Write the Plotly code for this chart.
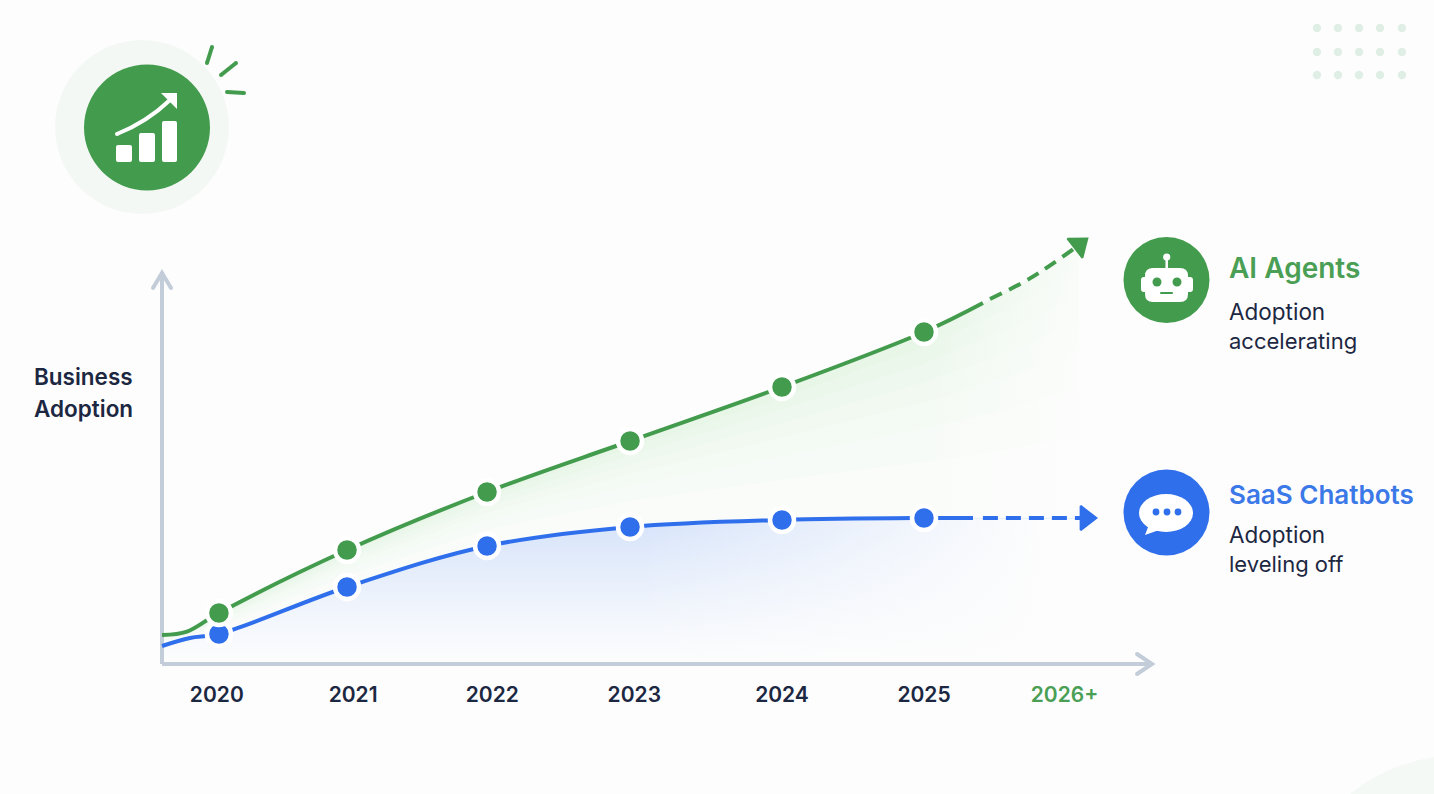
import numpy as np
import plotly.graph_objects as go

# Page geometry of the plot area, in pixels; it reaches a little past the drawn axes
PAGE_W, PAGE_H = 1434, 794
LEFT, RIGHT, TOP, BOTTOM = 150, 1160, 230, 670

GREEN = "#439c4d"
BLUE = "#2f6fec"
GREEN_TEXT = "#4a9f55"
BLUE_TEXT = "#3b78e8"
NAVY = "#1c2742"
AXIS = "#c3cdd9"
FONT = "Inter"

# Scale of the axes
X_RANGE = [2019.5495, 2026.662]
Y_RANGE = [-1.5, 108.5]
# Where the drawn axis lines start and stop
AXIS_X0, AXIS_X1 = 2019.634, 2026.592
AXIS_Y1 = 98

# Horizontal position of each year along the time axis
tick_x = [2020.02, 2020.98, 2021.96, 2022.96, 2024.0, 2025.0, 2025.99]
tick_text = ["2020", "2021", "2022", "2023", "2024", "2025", "2026+"]

# AI agents: solid history, then the dashed projection
agents_x = [2019.634, 2019.81, 2020.035, 2020.937, 2021.923, 2022.93, 2024.0, 2025.0, 2025.415]
agents_y = [7.25, 8.1, 12.75, 28.5, 43.0, 55.75, 69.25, 83.0, 90.25]
agents_proj_x = [2025.465, 2025.746, 2026.063]
agents_proj_y = [91.25, 96.4, 104.0]
agents_tip = (2026.092, 104.75)

# SaaS chatbots: solid history, then the dashed projection
bots_x = [2019.634, 2019.831, 2020.035, 2020.937, 2021.923, 2022.93, 2024.0, 2025.0, 2025.345]
bots_y = [4.5, 6.5, 7.5, 19.25, 29.5, 34.25, 36.0, 36.5, 36.5]
bots_proj_x = [2025.415, 2026.1]
bots_proj_y = [36.5, 36.5]
bots_tip = (2026.14, 36.5)

# Yearly markers sit on these indices of the history arrays
marker_idx = [2, 3, 4, 5, 6, 7]

# Stacked translucent layers that soften the band between the two curves;
# each reaches this fraction of the way down to the chatbot curve
band_fractions = [0.08, 0.17, 0.27, 0.38, 0.52, 0.7, 1.0]
BAND_COLOR = "rgba(160,215,160,0.03)"


def fx(x):
    return (x - LEFT) / (RIGHT - LEFT)


def fy(y):
    return (BOTTOM - y) / (BOTTOM - TOP)


def build_path(cmds):
    out = []
    for cmd in cmds:
        nums = cmd[1:]
        pairs = [f"{fx(nums[i]):.5f},{fy(nums[i + 1]):.5f}" for i in range(0, len(nums), 2)]
        out.append(cmd[0] + " ".join(pairs))
    return " ".join(out)


def circle(cx, cy, r, color, ry=None):
    ry = r if ry is None else ry
    return dict(type="circle", xref="paper", yref="paper", x0=fx(cx - r), x1=fx(cx + r),
                y0=fy(cy + ry), y1=fy(cy - ry), fillcolor=color, line_width=0, layer="above")


def shape_path(cmds, fill=None, line=None, width=0):
    d = dict(type="path", xref="paper", yref="paper", path=build_path(cmds), layer="above")
    d["fillcolor"] = fill if fill else "rgba(0,0,0,0)"
    d["line"] = dict(color=line if line else "rgba(0,0,0,0)", width=width)
    return d


def round_rect(x0, y0, x1, y1, r, color):
    return shape_path([
        ("M", x0 + r, y0), ("L", x1 - r, y0), ("Q", x1, y0, x1, y0 + r),
        ("L", x1, y1 - r), ("Q", x1, y1, x1 - r, y1), ("L", x0 + r, y1),
        ("Q", x0, y1, x0, y1 - r), ("L", x0, y0 + r), ("Q", x0, y0, x0 + r, y0), ("Z",),
    ], fill=color)


def stroke(points, color, width, round_caps=True):
    cmds = [("M",) + points[0]] + [("L",) + p for p in points[1:]]
    items = [shape_path(cmds, line=color, width=width)]
    if round_caps:
        for p in (points[0], points[-1]):
            items.append(circle(p[0], p[1], width / 2, color))
    return items


def label(x, y, text, size, color, weight=500):
    return dict(xref="paper", yref="paper", x=fx(x), y=fy(y), text=text, showarrow=False,
                xanchor="left", yanchor="middle", align="left",
                font=dict(family=FONT, size=size, color=color, weight=weight))


fig = go.Figure()

# Soft area under the chatbot curve, fading towards the baseline
fig.add_trace(go.Scatter(
    x=bots_x + bots_proj_x, y=bots_y + bots_proj_y, mode="lines",
    line=dict(width=0, shape="spline"), fill="tozeroy", hoverinfo="skip",
    fillgradient=dict(type="vertical", start=0, stop=37,
                      colorscale=[[0, "rgba(200,218,250,0)"], [1, "rgba(185,208,248,0.6)"]]),
))
# Wash the chatbot area out towards the right-hand end
fig.add_trace(go.Scatter(
    x=[2023.0, 2026.2, 2026.2, 2023.0], y=[0, 0, 36.4, 36.2], mode="lines",
    line=dict(width=0), fill="toself", hoverinfo="skip",
    fillgradient=dict(type="horizontal", start=2023.0, stop=2025.85,
                      colorscale=[[0, "rgba(253,253,253,0)"], [1, "rgba(253,253,253,1)"]]),
))

# Band between the curves
top_x = np.array(agents_x + agents_proj_x + [agents_tip[0]])
top_y = np.array(agents_y + agents_proj_y + [agents_tip[1]])
floor_y = np.interp(top_x, bots_x + bots_proj_x, bots_y + bots_proj_y)
for frac in band_fractions:
    low_y = top_y - frac * (top_y - floor_y)
    fig.add_trace(go.Scatter(
        x=np.concatenate([top_x, top_x[::-1]]), y=np.concatenate([top_y, low_y[::-1]]),
        mode="lines", line=dict(width=0), fill="toself", fillcolor=BAND_COLOR, hoverinfo="skip",
    ))
# Fade the band as it approaches the projected end
wash = top_x >= 2025.0
fig.add_trace(go.Scatter(
    x=np.concatenate([top_x[wash], [2026.2, 2026.2, 2025.0]]),
    y=np.concatenate([top_y[wash] + 0.4, [top_y[-1], 36.8, 36.8]]),
    mode="lines", line=dict(width=0), fill="toself", hoverinfo="skip",
    fillgradient=dict(type="horizontal", start=2025.0, stop=2026.1,
                      colorscale=[[0, "rgba(253,253,253,0)"], [1, "rgba(253,253,253,0.8)"]]),
))

# Axis lines run from the origin and stop short of the plot edge
fig.add_trace(go.Scatter(x=[AXIS_X0, AXIS_X0], y=[0, AXIS_Y1], mode="lines", hoverinfo="skip",
                         line=dict(color=AXIS, width=4)))
fig.add_trace(go.Scatter(x=[AXIS_X0, AXIS_X1], y=[0, 0], mode="lines", hoverinfo="skip",
                         line=dict(color=AXIS, width=4)))


def add_series(xs, ys, proj_x, proj_y, tip, tip_angle, color, dash):
    fig.add_trace(go.Scatter(x=xs, y=ys, mode="lines", hoverinfo="skip",
                             line=dict(color=color, width=4, shape="spline")))
    fig.add_trace(go.Scatter(x=proj_x, y=proj_y, mode="lines", hoverinfo="skip",
                             line=dict(color=color, width=4, shape="spline", dash=dash)))
    fig.add_trace(go.Scatter(x=[tip[0]], y=[tip[1]], mode="markers", hoverinfo="skip",
                             marker=dict(symbol="triangle-up", size=21, color=color, angle=tip_angle,
                                         line=dict(color=color, width=2))))
    fig.add_trace(go.Scatter(x=[xs[i] for i in marker_idx], y=[ys[i] for i in marker_idx],
                             mode="markers", hoverinfo="skip",
                             marker=dict(size=24, color=color, line=dict(color="white", width=4.5))))


add_series(bots_x, bots_y, bots_proj_x, bots_proj_y, bots_tip, 90, BLUE, "15px,8px")
add_series(agents_x, agents_y, agents_proj_x, agents_proj_y, agents_tip, 52, GREEN, "13px,8px")

shapes = []

# Axis arrowheads
shapes += stroke([(153, 288), (162, 273), (171, 288)], AXIS, 4)
shapes += stroke([(1137, 654), (1152, 664), (1137, 674)], AXIS, 4)

# Corner decoration and dot grid
shapes.append(shape_path([("M", 1350, 794), ("Q", 1385, 765, 1434, 757), ("L", 1434, 794), ("Z",)], fill="#f5f9f6"))
for py in [28, 52, 75]:
    for px in [1317, 1338, 1359, 1380, 1402]:
        shapes.append(circle(px, py, 4.2, "#e0efe5"))

# Growth badge
shapes.append(circle(142, 127, 87, "#f4f8f5"))
shapes.append(circle(147, 127.5, 63, GREEN))
shapes.append(round_rect(116, 145, 132, 162, 2, "white"))
shapes.append(round_rect(139, 133, 155, 162, 2, "white"))
shapes.append(round_rect(162, 121, 177, 162, 2, "white"))
shapes.append(shape_path([("M", 117, 134), ("Q", 147, 122, 170, 100)], line="white", width=4))
shapes.append(circle(117, 134, 2, "white"))
shapes.append(shape_path([("M", 161, 93), ("L", 177, 93), ("L", 177, 109), ("Z",)], fill="white"))
shapes += stroke([(212, 47), (207, 63)], GREEN, 4)
shapes += stroke([(236, 63), (221, 75)], GREEN, 4)
shapes += stroke([(227, 92), (244, 93)], GREEN, 4)

# Robot icon
shapes.append(circle(1166.5, 280, 43, GREEN))
shapes.append(round_rect(1141, 277, 1193, 292, 3, "white"))
shapes.append(round_rect(1145, 268, 1188, 302, 8, "white"))
shapes += stroke([(1166.7, 258), (1166.7, 268)], "white", 2.5, round_caps=False)
shapes.append(circle(1166.7, 257, 3.6, "white"))
shapes.append(circle(1157, 282, 4.5, GREEN))
shapes.append(circle(1177, 282, 4.5, GREEN))
shapes += stroke([(1161, 293), (1172, 293)], GREEN, 2)

# Chat icon
shapes.append(circle(1166.5, 512.5, 43, BLUE))
shapes.append(circle(1166, 513, 27, "white", ry=19))
shapes.append(shape_path([("M", 1150, 522), ("L", 1145, 535), ("L", 1162, 529), ("Z",)], fill="white"))
for px in [1156, 1167, 1178]:
    shapes.append(circle(px, 512, 3.4, BLUE))

annotations = [
    label(31.5, 376, "Business", 22.5, NAVY, 600),
    label(31.5, 408, "Adoption", 22.5, NAVY, 600),
    label(1227, 268, "AI Agents", 28, GREEN_TEXT, 600),
    label(1227, 311, "Adoption", 22.5, NAVY, 400),
    label(1227, 341, "accelerating", 22, NAVY, 400),
    label(1227, 494, "SaaS Chatbots", 26, BLUE_TEXT, 600),
    label(1227, 534, "Adoption", 22.5, NAVY, 400),
    label(1227, 564, "leveling off", 22, NAVY, 400),
]

tick_labels = [t if t != "2026+" else f'<span style="color:{GREEN_TEXT}">{t}</span>' for t in tick_text]

fig.update_layout(
    width=PAGE_W, height=PAGE_H, showlegend=False,
    margin=dict(l=LEFT, r=PAGE_W - RIGHT, t=TOP, b=PAGE_H - BOTTOM, autoexpand=False),
    paper_bgcolor="#fdfdfd", plot_bgcolor="rgba(0,0,0,0)",
    shapes=shapes, annotations=annotations,
    xaxis=dict(range=X_RANGE, tickmode="array", tickvals=tick_x, ticktext=tick_labels,
               showgrid=False, zeroline=False, showline=False,
               ticks="outside", ticklen=6, tickcolor="rgba(0,0,0,0)",
               tickfont=dict(family=FONT, size=21, color=NAVY, weight=600)),
    yaxis=dict(range=Y_RANGE, showgrid=False, zeroline=False, showline=False,
               showticklabels=False, ticks=""),
)

fig.write_html("out.html", config=dict(displayModeBar=False))
